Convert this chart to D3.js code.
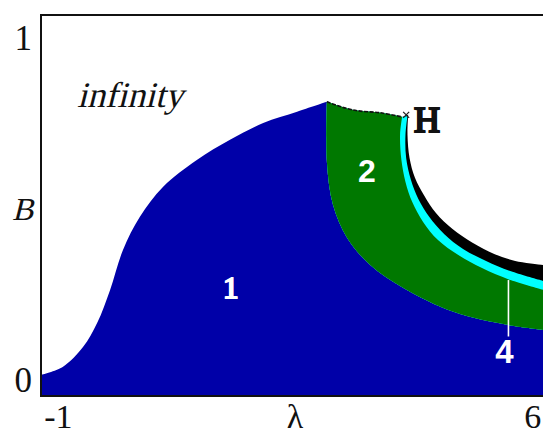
<!DOCTYPE html>
<html>
<head>
<meta charset="utf-8">
<script src="https://cdn.jsdelivr.net/npm/d3@7"></script>
<style>
  /* Single-face serif family so bold and italic are synthesized from it */
  @font-face { font-family: "PlotSerif"; src: local("Liberation Serif"), local("LiberationSerif"); font-weight: 400; font-style: normal; }
  html, body { margin: 0; padding: 0; background: #fff; }
  svg { display: block; }
</style>
</head>
<body>
<svg id="chart" width="543" height="434"></svg>
<script>
// Axis ticks
const lambdaTicks = [-1, 6];
const bTicks = [0, 1];

// Upper edge of region 1 (left part, up to the cusp)
const edge1Lambda = [-1.25, -0.93, -0.63, -0.42, -0.23, -0.04, 0.21, 0.55, 1.05, 1.54, 2.03, 2.53, 2.97];
const edge1B      = [0.015, 0.038, 0.096, 0.167, 0.263, 0.380, 0.477, 0.564, 0.643, 0.702, 0.751, 0.784, 0.813];

// Border between region 1 and region 2
const edge12Lambda = [2.97, 2.97, 3.06, 3.27, 3.61, 4.10, 4.84, 5.63, 6.17];
const edge12B      = [0.813, 0.637, 0.512, 0.415, 0.336, 0.269, 0.199, 0.161, 0.146];

// Top of region 2, from the cusp to the point H
const topLambda = [2.97, 3.36, 3.76, 4.08];
const topB      = [0.813, 0.789, 0.781, 0.769];

// Lower edge of the cyan band (region 2 side)
const cyanLowLambda = [4.08, 4.05, 4.07, 4.13, 4.23, 4.39, 4.61, 4.91, 5.26, 5.68, 6.17];
const cyanLowB      = [0.769, 0.716, 0.643, 0.579, 0.520, 0.462, 0.409, 0.365, 0.327, 0.292, 0.263];

// Upper edge of the cyan band
const cyanHighLambda = [4.16, 4.13, 4.14, 4.21, 4.32, 4.48, 4.70, 4.98, 5.32, 5.71, 6.17];
const cyanHighB      = [0.772, 0.716, 0.649, 0.585, 0.529, 0.477, 0.427, 0.383, 0.348, 0.316, 0.289];

// Outer edge of the black band
const blackLambda = [4.17, 4.16, 4.19, 4.27, 4.41, 4.58, 4.82, 5.12, 5.44, 5.75, 6.17];
const blackB      = [0.775, 0.716, 0.649, 0.591, 0.538, 0.488, 0.442, 0.401, 0.368, 0.348, 0.336];

// Point H and the pointer to region 4
const pointH = [4.14, 0.775];
const pointer4Lambda = [5.65, 5.65];
const pointer4B = [0.292, 0.127];

const svg = d3.select("#chart");
const frameL = 41, frameR = 543, frameT = 15, frameB = 396;

const x = d3.scaleLinear().domain([-1.25, 6.16]).range([frameL, frameR]);
const y = d3.scaleLinear().domain([-0.047, 1.067]).range([frameB, frameT]);

const zip = (a, b) => a.map((v, i) => [v, b[i]]);
const smooth = d3.line().x(d => x(d[0])).y(d => y(d[1])).curve(d3.curveCatmullRom.alpha(0.5));
const cont = pts => smooth(pts).replace(/^M/, "L");

const edge1 = zip(edge1Lambda, edge1B);
const edge12 = zip(edge12Lambda, edge12B);
const topEdge = zip(topLambda, topB);
const cyanLow = zip(cyanLowLambda, cyanLowB);
const cyanHigh = zip(cyanHighLambda, cyanHighB);
const blackEdge = zip(blackLambda, blackB);
const edge12Rev = edge12.slice().reverse();

const yMin = y.domain()[0];
const plot = svg.append("g");

// Region 1
plot.append("path")
  .attr("fill", "#0000a8")
  .attr("d", `M${x(-1.25)},${y(yMin)}` + cont(edge1) + cont(edge12) +
             `L${x(6.17)},${y(yMin)}Z`);

// Region 2 and the bands on its outer side, painted from outside in
function region2(outer) {
  return smooth(topEdge) + cont(outer) + cont(edge12Rev) + "Z";
}
plot.append("path").attr("fill", "#000").attr("d", region2(blackEdge));
plot.append("path").attr("fill", "#00ffff").attr("d", region2(cyanHigh));
plot.append("path").attr("fill", "#007800").attr("d", region2(cyanLow));

// Dashed upper border of region 2
plot.append("path")
  .attr("fill", "none")
  .attr("stroke", "#111")
  .attr("stroke-width", 1.6)
  .attr("stroke-dasharray", "4 1.5")
  .attr("d", smooth(topEdge));

// Marker at H
const hx = x(pointH[0]), hy = y(pointH[1]);
plot.append("path")
  .attr("stroke", "#222")
  .attr("stroke-width", 1.3)
  .attr("d", `M${hx - 3},${hy - 3}L${hx + 3},${hy + 3}M${hx - 3},${hy + 3}L${hx + 3},${hy - 3}`);

// Pointer to region 4
plot.append("path")
  .attr("stroke", "#fff")
  .attr("stroke-width", 1.6)
  .attr("d", d3.line().x(d => x(d[0])).y(d => y(d[1]))(zip(pointer4Lambda, pointer4B)));

// Region labels
const serif = "'Liberation Serif', 'Times New Roman', serif";
const styledSerif = "PlotSerif, 'DejaVu Serif', serif";
const sans = "Arial, 'Liberation Sans', Helvetica, sans-serif";
plot.append("text").text("infinity")
  .attr("x", 77).attr("y", 107)
  .attr("font-family", styledSerif).attr("font-style", "italic").attr("font-size", 36).attr("fill", "#111");
plot.append("text").text("1")
  .attr("x", x(1.55)).attr("y", 298).attr("text-anchor", "middle")
  .attr("font-family", styledSerif).attr("font-weight", "bold").attr("font-size", 31)
  .attr("fill", "#fff").attr("stroke", "#fff").attr("stroke-width", 0.8);
plot.append("text").text("2")
  .attr("x", x(3.56)).attr("y", 182).attr("text-anchor", "middle")
  .attr("font-family", sans).attr("font-weight", "bold").attr("font-size", 32).attr("fill", "#fff");
plot.append("text").text("4")
  .attr("x", x(5.59)).attr("y", 363).attr("text-anchor", "middle")
  .attr("font-family", sans).attr("font-weight", "bold").attr("font-size", 33).attr("fill", "#fff");
plot.append("text").text("H")
  .attr("x", 414).attr("y", 132)
  .attr("font-family", styledSerif).attr("font-weight", "bold").attr("font-size", 36)
  .attr("fill", "#111").attr("stroke", "#111").attr("stroke-width", 1);

// Axes
const axisFont = g => g.selectAll("text")
  .attr("font-family", serif).attr("font-size", 35).attr("fill", "#111");

svg.append("g")
  .attr("transform", `translate(${frameL},0)`)
  .call(d3.axisLeft(y).tickValues(bTicks).tickSize(0).tickPadding(9).tickFormat(d3.format("d")))
  .call(g => g.select(".domain").remove())
  .call(axisFont);

svg.append("g")
  .attr("transform", `translate(0,${frameB})`)
  .call(d3.axisBottom(x).tickValues(lambdaTicks).tickSize(0).tickFormat(d => d < 0 ? "-" + Math.abs(d) : d))
  .call(g => g.select(".domain").remove())
  .call(axisFont)
  .call(g => g.selectAll("text").attr("y", 32).attr("dy", 0).attr("font-size", 34));

svg.append("text").text("λ")
  .attr("x", x(2.5)).attr("y", 428).attr("text-anchor", "middle")
  .attr("font-family", serif).attr("font-size", 34).attr("fill", "#111");
svg.append("text").text("B")
  .attr("x", 22).attr("y", y(0.5)).attr("dy", "0.35em").attr("text-anchor", "middle")
  .attr("font-family", styledSerif).attr("font-style", "italic").attr("font-size", 32).attr("fill", "#111");

// Frame
svg.append("path")
  .attr("fill", "none")
  .attr("stroke", "#111")
  .attr("stroke-width", 2)
  .attr("d", `M${frameR + 2},${frameT}H${frameL}V${frameB}H${frameR + 2}`);
</script>
</body>
</html>
